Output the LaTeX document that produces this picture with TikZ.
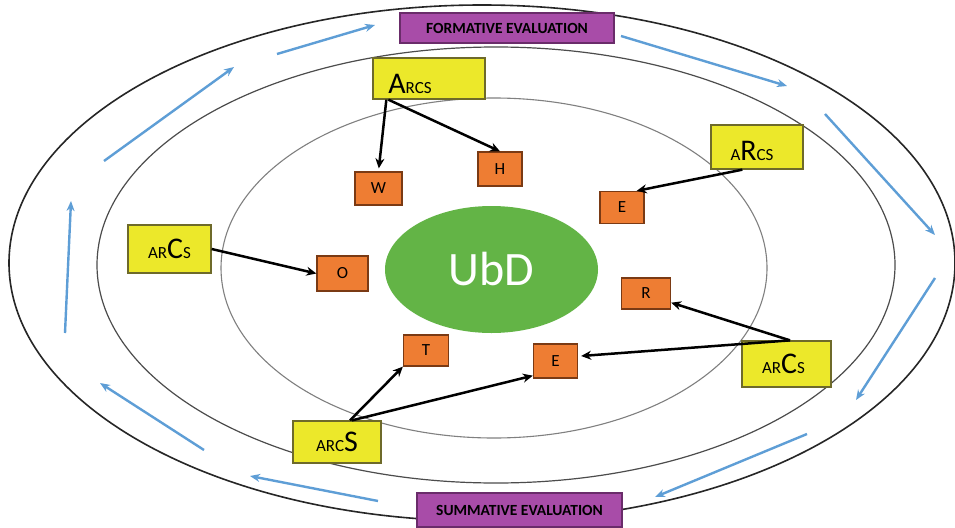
\documentclass[tikz,border=0pt]{standalone}
\usepackage{fontspec}
\setmainfont{Carlito}
\usetikzlibrary{arrows.meta,calc,shapes.geometric}
\definecolor{yelfill}{HTML}{ECE82A}
\definecolor{yeldraw}{HTML}{6E6A2A}
\definecolor{orfill}{HTML}{EE7D33}
\definecolor{ordraw}{HTML}{7A3A14}
\definecolor{purfill}{HTML}{A84CA8}
\definecolor{purdraw}{HTML}{6A2C6A}
\definecolor{ubdgreen}{HTML}{63B446}
\definecolor{flowblue}{HTML}{5E9ED6}
\newcommand\bigLt[1]{{\fontsize{30}{30}\selectfont #1}}
\newcommand\smLt[1]{{\fontsize{17}{17}\selectfont #1}}
\tikzset{
  yelbox/.style={draw=yeldraw, line width=1.3pt, fill=yelfill, inner sep=0pt},
  orbox/.style={draw=ordraw, line width=1.3pt, fill=orfill, inner sep=0pt, font=\fontsize{17}{17}\selectfont},
  evalbox/.style={draw=purdraw, line width=1.3pt, fill=purfill, inner sep=0pt, font=\bfseries\fontsize{15.5}{15.5}\selectfont},
  blk/.style={draw=black, line width=2.5pt, -{Stealth[length=10pt,width=9pt]}},
  blu/.style={draw=flowblue, line width=2.4pt, -{Stealth[length=10pt,width=8pt]}},
  ring/.style={line width=1.3pt}
}
\begin{document}
\begin{tikzpicture}[x=1pt,y=-1pt]
\useasboundingbox (0,0) rectangle (955,527);
\fill[white] (0,0) rectangle (955,527);
% rings
\draw[ring, draw=black!85, line width=1.6pt] (482,263) ellipse [x radius=473pt, y radius=258pt];
\draw[ring, draw=black!70, line width=1.2pt] (496,265) ellipse [x radius=399pt, y radius=218pt];
\draw[ring, draw=black!50, line width=1.1pt] (494,268) ellipse [x radius=273pt, y radius=170pt];
% blue flow arrows
\coordinate (b1s) at (65,333);  \coordinate (b1e) at (71,201);
\coordinate (b2s) at (104,161); \coordinate (b2e) at (234,67);
\coordinate (b3s) at (277,54);  \coordinate (b3e) at (375,25);
\coordinate (b4s) at (621,36);  \coordinate (b4e) at (787,86);
\coordinate (b5s) at (825,114); \coordinate (b5e) at (935,235);
\coordinate (b6s) at (935,278); \coordinate (b6e) at (856,400);
\coordinate (b7s) at (807,434); \coordinate (b7e) at (655,497);
\coordinate (b8s) at (378,501); \coordinate (b8e) at (250,476);
\coordinate (b9s) at (204,450); \coordinate (b9e) at (100,383);
\foreach \i in {1,...,9} {\draw[blu] (b\i s) -- (b\i e);}
% evaluation boxes
\node[evalbox, minimum width=214pt, minimum height=30pt] (form) at (507,28) {FORMATIVE EVALUATION};
\node[evalbox, minimum width=205pt, minimum height=34pt] (summ) at (519.5,510) {SUMMATIVE EVALUATION};
% centre
\node[fill=ubdgreen, ellipse, minimum width=213pt, minimum height=127pt, inner sep=0pt,
      text=white, font=\fontsize{48}{48}\selectfont] (ubd) at (491.5,269.5) {UbD};
% orange boxes
\node[orbox, minimum width=47pt, minimum height=33pt] (W) at (378.5,188.5) {W};
\node[orbox, minimum width=44pt, minimum height=34pt] (H) at (500,169) {H};
\node[orbox, minimum width=44pt, minimum height=32pt] (E1) at (622,207.5) {E};
\node[orbox, minimum width=51pt, minimum height=35pt] (O) at (342.5,273.5) {O};
\node[orbox, minimum width=49pt, minimum height=31pt] (R) at (646,293.5) {R};
\node[orbox, minimum width=45pt, minimum height=31pt] (T) at (426,350.5) {T};
\node[orbox, minimum width=44pt, minimum height=34pt] (E2) at (555.5,361) {E};
% yellow boxes
\node[yelbox, minimum width=112pt, minimum height=41pt, text height=29pt, text depth=0pt] (y1) at (429,78.5) {\bigLt{A}\smLt{RCS}\hspace*{38pt}};
\node[yelbox, minimum width=92pt, minimum height=44pt, text height=26pt, text depth=0pt] (y2) at (757,147) {\smLt{A}\bigLt{R}\smLt{CS}\hspace*{10pt}};
\node[yelbox, minimum width=83pt, minimum height=48pt] (y3) at (169.5,249) {\smLt{AR}\bigLt{C}\smLt{S}};
\node[yelbox, minimum width=89pt, minimum height=46pt] (y4) at (786.5,364) {\smLt{AR}\bigLt{C}\smLt{S}\hspace*{6pt}};
\node[yelbox, minimum width=88pt, minimum height=42pt] (y5) at (337,442) {\smLt{ARC}\bigLt{S}};
% connectors
\draw[blk, shorten >=3pt] ($(y1.south west)+(14,0)$) -- (W.north);
\draw[blk] ($(y1.south west)+(16,0)$) -- (H.north);
\draw[blk] ($(y2.south west)+(32,0)$) -- ($(E1.north east)+(-8,0)$);
\draw[blk] (y3.east) -- (O.west);
\draw[blk] ($(y4.north)+(3.5,0)$) -- ($(R.south east)+(0,-7)$);
\draw[blk] ($(y4.north)+(3.5,0)$) -- ($(E2.east)+(3,-5)$);
\draw[blk] ($(y5.north)+(13,0)$) -- (T.south west);
\draw[blk] ($(y5.north)+(15,0)$) -- ($(E2.south west)+(0,-3)$);
\end{tikzpicture}
\end{document}
